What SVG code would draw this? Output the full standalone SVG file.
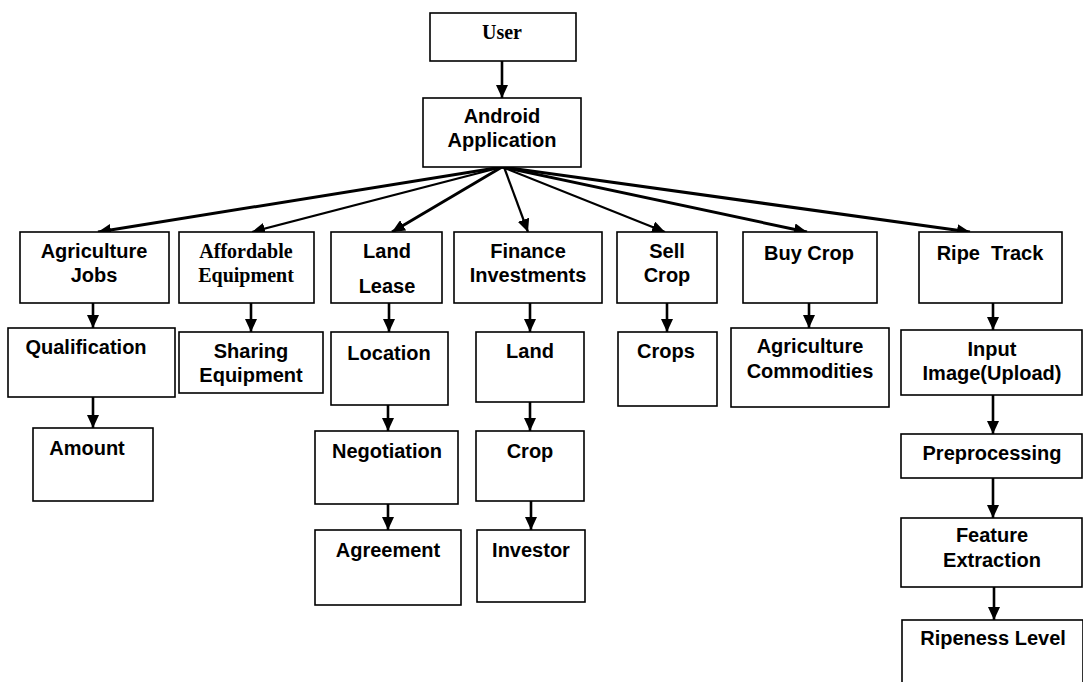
<svg xmlns="http://www.w3.org/2000/svg" width="1083" height="682" viewBox="0 0 1083 682">
  <style>
    .box { fill: #ffffff; stroke: #000000; stroke-width: 1.6; }
    .lbl { font-family: "Liberation Sans", Arial, sans-serif; font-weight: bold; font-size: 20px; fill: #000000; text-anchor: middle; }
    .serif { font-family: "Liberation Serif", "Times New Roman", serif; font-weight: bold; font-size: 20px; fill: #000000; text-anchor: middle; }
    .edge { stroke: #000000; stroke-width: 2.2; fill: none; marker-end: url(#arrow); }
    .edge.heavy { stroke-width: 3; }
    .edge.down { stroke-width: 2.6; }
  </style>
  <defs>
    <marker id="arrow" markerUnits="userSpaceOnUse" markerWidth="14" markerHeight="12" refX="13" refY="6" orient="auto">
      <path d="M0,0 L13,6 L0,12 Z" fill="#000000"/>
    </marker>
  </defs>

  <rect x="0" y="0" width="1083" height="682" fill="#ffffff"/>

  <!-- connectors -->
  <g id="connectors">
    <line class="edge down" x1="502" y1="61" x2="502" y2="98"/>
    <!-- fan out of the application box -->
    <line class="edge heavy" x1="502" y1="167" x2="98" y2="232"/>
    <line class="edge" x1="502" y1="167" x2="252" y2="232"/>
    <line class="edge heavy" x1="502" y1="167" x2="392" y2="232"/>
    <line class="edge" x1="504" y1="167" x2="528" y2="232"/>
    <line class="edge" x1="502" y1="167" x2="665" y2="232"/>
    <line class="edge heavy" x1="502" y1="167" x2="807" y2="232"/>
    <line class="edge heavy" x1="502" y1="167" x2="970" y2="232"/>
    <!-- columns -->
    <line class="edge down" x1="93" y1="303" x2="93" y2="328"/>
    <line class="edge down" x1="93" y1="397" x2="93" y2="428"/>
    <line class="edge down" x1="251" y1="303" x2="251" y2="332"/>
    <line class="edge down" x1="389" y1="303" x2="389" y2="332"/>
    <line class="edge down" x1="388" y1="405" x2="388" y2="431"/>
    <line class="edge down" x1="388" y1="504" x2="388" y2="530"/>
    <line class="edge down" x1="530" y1="303" x2="530" y2="332"/>
    <line class="edge down" x1="530" y1="402" x2="530" y2="431"/>
    <line class="edge down" x1="531" y1="501" x2="531" y2="530"/>
    <line class="edge down" x1="667" y1="303" x2="667" y2="332"/>
    <line class="edge down" x1="809" y1="303" x2="809" y2="328"/>
    <line class="edge down" x1="993" y1="303" x2="993" y2="330"/>
    <line class="edge down" x1="993" y1="395" x2="993" y2="434"/>
    <line class="edge down" x1="993" y1="478" x2="993" y2="518"/>
    <line class="edge down" x1="994" y1="587" x2="994" y2="620"/>
  </g>

  <g id="user">
    <rect class="box" x="430" y="13" width="146" height="48"/>
    <text class="serif" x="502" y="39" font-size="19">User</text>
  </g>
  <g id="android-app">
    <rect class="box" x="423" y="98" width="158" height="69"/>
    <text class="lbl" x="502" y="123">Android</text>
    <text class="lbl" x="502" y="147">Application</text>
  </g>

  <g id="agriculture-jobs">
    <rect class="box" x="20" y="232" width="149" height="71"/>
    <text class="lbl" x="94" y="258">Agriculture</text>
    <text class="lbl" x="94" y="282">Jobs</text>
  </g>
  <g id="affordable-equipment">
    <rect class="box" x="179" y="232" width="135" height="71"/>
    <text class="serif" x="246" y="258">Affordable</text>
    <text class="serif" x="246" y="282">Equipment</text>
  </g>
  <g id="land-lease">
    <rect class="box" x="331" y="232" width="111" height="71"/>
    <text class="lbl" x="387" y="258">Land</text>
    <text class="lbl" x="387" y="293">Lease</text>
  </g>
  <g id="finance-investments">
    <rect class="box" x="454" y="232" width="148" height="71"/>
    <text class="lbl" x="528" y="258">Finance</text>
    <text class="lbl" x="528" y="282">Investments</text>
  </g>
  <g id="sell-crop">
    <rect class="box" x="617" y="232" width="100" height="71"/>
    <text class="lbl" x="667" y="258">Sell</text>
    <text class="lbl" x="667" y="282">Crop</text>
  </g>
  <g id="buy-crop">
    <rect class="box" x="743" y="232" width="134" height="71"/>
    <text class="lbl" x="809" y="260">Buy Crop</text>
  </g>
  <g id="ripe-track">
    <rect class="box" x="919" y="232" width="143" height="71"/>
    <text class="lbl" x="990" y="260" xml:space="preserve">Ripe  Track</text>
  </g>

  <g id="qualification">
    <rect class="box" x="8" y="328" width="167" height="69"/>
    <text class="lbl" x="86" y="354">Qualification</text>
  </g>
  <g id="amount">
    <rect class="box" x="33" y="428" width="120" height="73"/>
    <text class="lbl" x="87" y="455">Amount</text>
  </g>
  <g id="sharing-equipment">
    <rect class="box" x="179" y="332" width="144" height="61"/>
    <text class="lbl" x="251" y="358">Sharing</text>
    <text class="lbl" x="251" y="382">Equipment</text>
  </g>

  <g id="location">
    <rect class="box" x="331" y="332" width="117" height="73"/>
    <text class="lbl" x="389" y="360">Location</text>
  </g>
  <g id="negotiation">
    <rect class="box" x="315" y="431" width="143" height="73"/>
    <text class="lbl" x="387" y="458">Negotiation</text>
  </g>
  <g id="agreement">
    <rect class="box" x="315" y="530" width="146" height="75"/>
    <text class="lbl" x="388" y="557">Agreement</text>
  </g>

  <g id="land">
    <rect class="box" x="476" y="332" width="108" height="70"/>
    <text class="lbl" x="530" y="358">Land</text>
  </g>
  <g id="crop">
    <rect class="box" x="476" y="431" width="108" height="70"/>
    <text class="lbl" x="530" y="458">Crop</text>
  </g>
  <g id="investor">
    <rect class="box" x="477" y="530" width="108" height="72"/>
    <text class="lbl" x="531" y="557">Investor</text>
  </g>

  <g id="crops">
    <rect class="box" x="618" y="332" width="99" height="74"/>
    <text class="lbl" x="666" y="358">Crops</text>
  </g>
  <g id="agriculture-commodities">
    <rect class="box" x="731" y="328" width="158" height="79"/>
    <text class="lbl" x="810" y="353">Agriculture</text>
    <text class="lbl" x="810" y="378">Commodities</text>
  </g>

  <g id="input-image">
    <rect class="box" x="901" y="330" width="181" height="65"/>
    <text class="lbl" x="992" y="356">Input</text>
    <text class="lbl" x="992" y="380">Image(Upload)</text>
  </g>
  <g id="preprocessing">
    <rect class="box" x="901" y="434" width="181" height="44"/>
    <text class="lbl" x="992" y="460">Preprocessing</text>
  </g>
  <g id="feature-extraction">
    <rect class="box" x="901" y="518" width="181" height="69"/>
    <text class="lbl" x="992" y="542">Feature</text>
    <text class="lbl" x="992" y="567">Extraction</text>
  </g>
  <g id="ripeness-level">
    <rect class="box" x="902" y="620" width="181" height="80"/>
    <text class="lbl" x="993" y="645">Ripeness Level</text>
  </g>
</svg>
